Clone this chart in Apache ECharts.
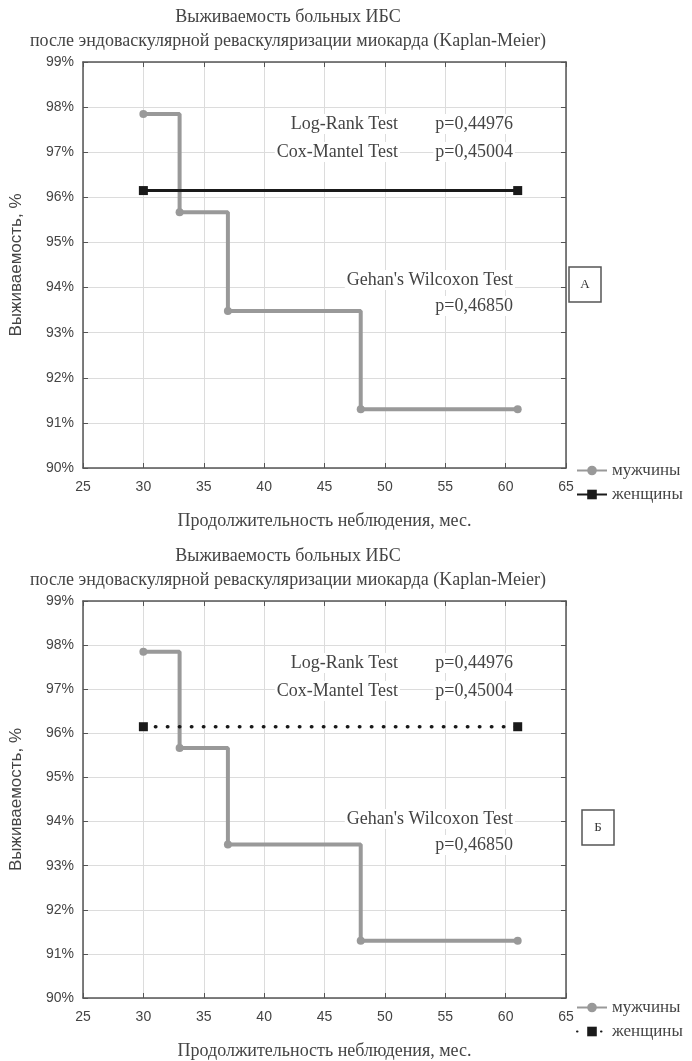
<!DOCTYPE html>
<html><head><meta charset="utf-8">
<script src="https://cdn.jsdelivr.net/npm/echarts@6/dist/echarts.min.js"></script>
<style>html,body{margin:0;padding:0;background:#fff}#c{width:692px;height:1061px}</style>
</head><body><div id="c"></div>
<script>
var titleLine1 = 'Выживаемость больных ИБС';
var titleLine2 = 'после эндоваскулярной реваскуляризации миокарда (Kaplan-Meier)';
var xTitle = 'Продолжительность неблюдения, мес.';
var yTitle = 'Выживаемость, %';
var menMonths = [30, 33, 37, 48, 61];
var menSurv = [97.85, 95.67, 93.48, 91.3, 91.3];
var womenMonths = [30, 61];
var womenSurv = [96.15, 96.15];
var seriesNames = ['мужчины', 'женщины'];
var testLines = [['Log-Rank Test', 'p=0,44976'], ['Cox-Mantel Test', 'p=0,45004']];
var gehanLines = ["Gehan's Wilcoxon Test", 'p=0,46850'];
var panelLabels = ['А', 'Б'];

var chart = echarts.init(document.getElementById('c'));
var serif = '"Liberation Serif", "DejaVu Serif", serif';
var sans = '"Liberation Sans", Arial, sans-serif';
var txtCol = '#444';
var grids = [{left: 83, top: 62, width: 483, height: 406}, {left: 83, top: 601, width: 483, height: 404}];

function pairs(xs, ys) { return xs.map(function (x, i) { return [x, ys[i]]; }); }

var xAxes = [], yAxes = [], series = [], legends = [], graphics = [];
grids.forEach(function (g, k) {
  xAxes.push({
    gridIndex: k, type: 'value', min: 25, max: 65, interval: 5,
    name: xTitle, nameLocation: 'middle', nameGap: 44,
    nameTextStyle: {fontFamily: serif, fontSize: 18, color: txtCol},
    axisLine: {lineStyle: {color: '#555', width: 1.5}},
    axisTick: {inside: true, length: 5, lineStyle: {color: '#555'}},
    axisLabel: {fontFamily: sans, fontSize: 14, color: txtCol, margin: 12},
    splitLine: {show: true, lineStyle: {color: '#dcdcdc', width: 1}}
  });
  xAxes.push({
    gridIndex: k, type: 'value', min: 25, max: 65, interval: 5, position: 'top',
    axisLine: {lineStyle: {color: '#555', width: 1.5}},
    axisTick: {inside: true, length: 5, lineStyle: {color: '#555'}},
    axisLabel: {show: false}, splitLine: {show: false}
  });
  yAxes.push({
    gridIndex: k, type: 'value', min: 90, max: 99, interval: 1,
    name: yTitle, nameLocation: 'middle', nameGap: 58, nameRotate: 90,
    nameTextStyle: {fontFamily: sans, fontSize: 17, color: txtCol},
    axisLine: {show: true, lineStyle: {color: '#555', width: 1.5}},
    axisTick: {show: true, inside: true, length: 5, lineStyle: {color: '#555'}},
    axisLabel: {fontFamily: sans, fontSize: 14, color: txtCol, margin: 9, formatter: '{value}%'},
    splitLine: {show: true, lineStyle: {color: '#dcdcdc', width: 1}}
  });
  yAxes.push({
    gridIndex: k, type: 'value', min: 90, max: 99, interval: 1, position: 'right',
    axisLine: {show: true, lineStyle: {color: '#555', width: 1.5}},
    axisTick: {show: true, inside: true, length: 5, lineStyle: {color: '#555'}},
    axisLabel: {show: false}, splitLine: {show: false}
  });
  var suffix = k === 0 ? '' : '\u200b';
  series.push({
    name: seriesNames[0] + suffix, type: 'line', xAxisIndex: 2 * k, yAxisIndex: 2 * k,
    step: 'end', data: pairs(menMonths, menSurv),
    symbol: 'circle', symbolSize: 8,
    itemStyle: {color: '#999'}, lineStyle: {color: '#999', width: 4},
    silent: true, animation: false, z: 3
  });
  series.push({
    name: seriesNames[1] + suffix, type: 'line', xAxisIndex: 2 * k, yAxisIndex: 2 * k,
    data: pairs(womenMonths, womenSurv),
    symbol: 'rect', symbolSize: 9,
    itemStyle: {color: '#1a1a1a'},
    lineStyle: k === 0 ? {color: '#1a1a1a', width: 3} : {color: '#1a1a1a', width: 3.5, type: [0.5, 11.5], cap: 'round'},
    silent: true, animation: false, z: 4
  });
  legends.push({
    orient: 'vertical', left: 571, top: g.top + g.height - 11, itemGap: 7,
    itemWidth: 30, itemHeight: 12,
    data: [seriesNames[0] + suffix, seriesNames[1] + suffix],
    textStyle: {fontFamily: serif, fontSize: 17, color: txtCol},
    selectedMode: false
  });
  var ty = g.top;
  var tfont = '18px ' + serif;
  graphics.push({type: 'text', style: {text: titleLine1, x: 288, y: ty - 45, align: 'center', verticalAlign: 'middle', font: tfont, fill: txtCol}});
  graphics.push({type: 'text', style: {text: titleLine2, x: 288, y: ty - 21, align: 'center', verticalAlign: 'middle', font: tfont, fill: txtCol}});
  function ann(text, x, y) {
    graphics.push({type: 'text', z: 10, style: {text: text, x: x, y: y, align: 'right', verticalAlign: 'middle', font: tfont, fill: txtCol, backgroundColor: '#fff', padding: [1, 2]}});
  }
  testLines.forEach(function (ln, i) {
    ann(ln[0], 400, ty + 62 + i * 28);
    ann(ln[1], 515, ty + 62 + i * 28);
  });
  ann(gehanLines[0], 515, ty + 218);
  ann(gehanLines[1], 515, ty + 244);
  var bx = k === 0 ? 569 : 582, by = k === 0 ? 267 : 810;
  graphics.push({type: 'rect', shape: {x: bx, y: by, width: 32, height: 35}, style: {fill: '#fff', stroke: '#555', lineWidth: 1.5}});
  graphics.push({type: 'text', style: {text: panelLabels[k], x: bx + 16, y: by + 18, align: 'center', verticalAlign: 'middle', font: '13px ' + serif, fill: '#333'}});
});

chart.setOption({
  animation: false,
  grid: grids,
  xAxis: xAxes,
  yAxis: yAxes,
  legend: legends,
  series: series,
  graphic: graphics
});
</script></body></html>
